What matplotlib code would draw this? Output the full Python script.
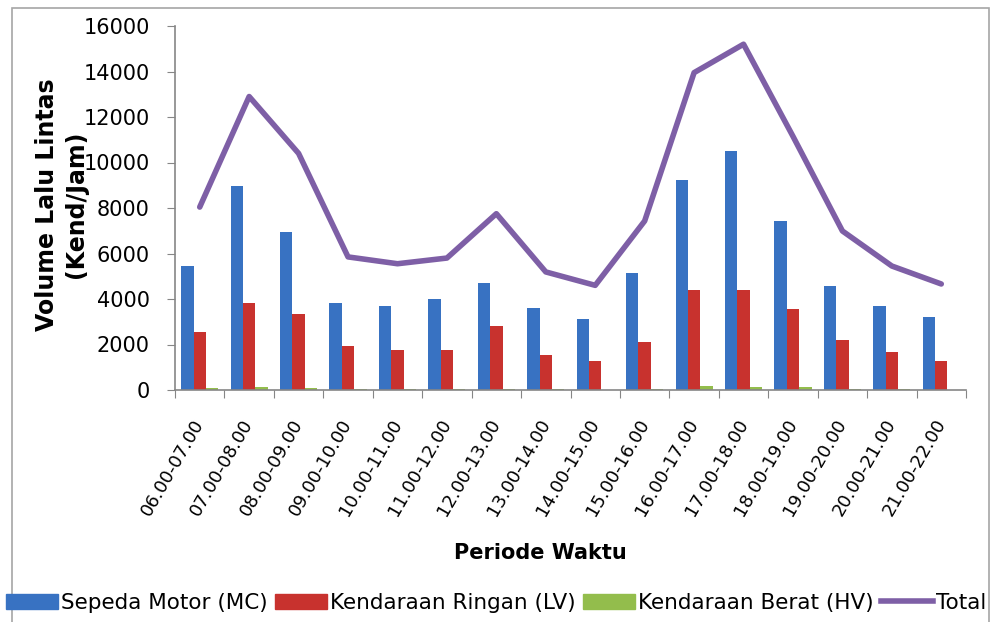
import matplotlib.pyplot as plt
import numpy as np
from matplotlib.patches import Rectangle
from matplotlib.lines import Line2D

periods = ['06.00-07.00', '07.00-08.00', '08.00-09.00', '09.00-10.00',
           '10.00-11.00', '11.00-12.00', '12.00-13.00', '13.00-14.00',
           '14.00-15.00', '15.00-16.00', '16.00-17.00', '17.00-18.00',
           '18.00-19.00', '19.00-20.00', '20.00-21.00', '21.00-22.00']
mc = [5450, 8970, 6940, 3820, 3690, 4000, 4700, 3600,
      3120, 5150, 9230, 10500, 7430, 4570, 3690, 3210]
lv = [2550, 3820, 3330, 1930, 1760, 1760, 2810, 1540,
      1280, 2110, 4400, 4400, 3560, 2200, 1670, 1270]
hv = [90, 130, 80, 30, 30, 30, 40, 30,
      20, 40, 170, 130, 120, 60, 30, 20]
total = [8040, 12900, 10400, 5850, 5550, 5800, 7750, 5190,
         4600, 7430, 13950, 15200, 11150, 6990, 5450, 4660]

fig = plt.figure(figsize=(9.92, 6.22), dpi=100)
ax = fig.add_axes([175/992, 1-390/622, 791/992, 364/622])

x = np.arange(len(periods))
w = 0.25
ax.bar(x - w, mc, w, color='#3872c2')
ax.bar(x, lv, w, color='#c8322e')
ax.bar(x + w, hv, w, color='#93bd4c')
ax.plot(x, total, color='#7e5fa6', lw=4, solid_joinstyle='round', solid_capstyle='round')

ax.set_xlim(-0.5, 15.5)
ax.set_ylim(0, 16000)
ax.set_yticks(range(0, 16001, 2000))
ax.tick_params(axis='y', labelsize=15, length=6, color='#868686', pad=12)

ax.set_xticks(np.arange(-0.5, 16, 1))
ax.set_xticklabels([])
ax.tick_params(axis='x', which='major', length=6, color='#868686')
ax.set_xticks(x, minor=True)
ax.set_xticklabels(periods, minor=True, rotation=60, ha='right', va='center',
                   rotation_mode='anchor', fontsize=13)
ax.tick_params(axis='x', which='minor', length=0, pad=22)

for s in ['top', 'right']:
    ax.spines[s].set_visible(False)
for s in ['left', 'bottom']:
    ax.spines[s].set_color('#868686')
    ax.spines[s].set_linewidth(1.2)

ax.set_ylabel('Volume Lalu Lintas\n(Kend/Jam)', fontsize=17, fontweight='bold', linespacing=1.25)
ax.yaxis.set_label_coords((88-175)/791, 0.51)
ax.set_xlabel('Periode Waktu', fontsize=15, fontweight='bold')
ax.xaxis.set_label_coords((540-175)/791, (390-543)/364)

handles = [Rectangle((0, 0), 1, 1, color='#3872c2'),
           Rectangle((0, 0), 1, 1, color='#c8322e'),
           Rectangle((0, 0), 1, 1, color='#93bd4c'),
           Line2D([], [], color='#7e5fa6', lw=4)]
labels = ['Sepeda Motor (MC)', 'Kendaraan Ringan (LV)', 'Kendaraan Berat (HV)', 'Total']
fig.legend(handles, labels, loc='center', bbox_to_anchor=(0.5, 19/622), ncol=4,
           frameon=False, fontsize=15.5, handlelength=2.4, handletextpad=0.15,
           columnspacing=0.35, borderaxespad=0)

fig.patches.append(Rectangle((12/992, -0.01), 977/992, 614/622 + 0.01,
                             transform=fig.transFigure, fill=False,
                             ec='#a6a6a6', lw=1.2))

fig.savefig('out.png', dpi=100)
